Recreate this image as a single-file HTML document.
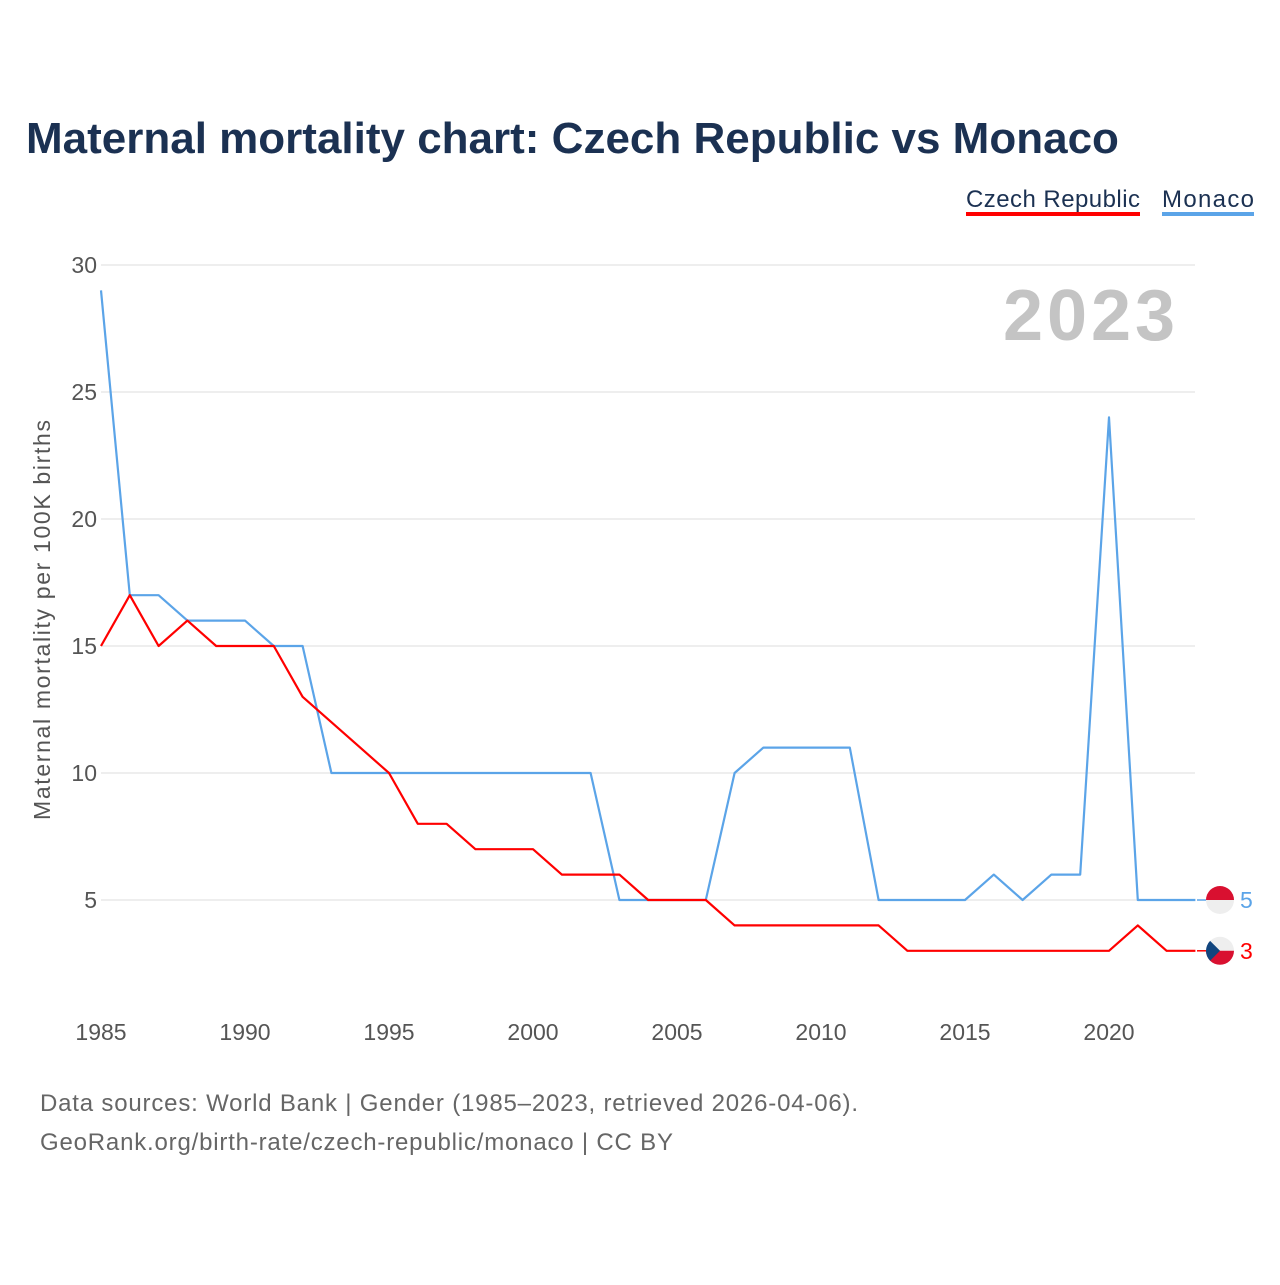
<!DOCTYPE html>
<html><head><meta charset="utf-8"><style>
body{margin:0;background:#fff;font-family:"Liberation Sans",sans-serif;}
svg text{font-family:"Liberation Sans",sans-serif;}
</style></head><body>
<svg width="1280" height="1280" viewBox="0 0 1280 1280">
<text x="26" y="153" font-size="44" font-weight="bold" fill="#1b3152">Maternal mortality chart: Czech Republic vs Monaco</text>
<g>
<text x="966" y="207" font-size="24" fill="#1b3152" textLength="174">Czech Republic</text>
<rect x="966" y="212" width="174" height="4" fill="#ff0000"/>
<text x="1162" y="207" font-size="24" fill="#1b3152" textLength="92">Monaco</text>
<rect x="1162" y="212" width="92" height="4" fill="#5ba4e8"/>
</g>
<g id="grid"></g>
<g id="xt"></g>
<text x="1175" y="340" font-size="72" font-weight="bold" fill="#c4c4c4" text-anchor="end" textLength="172">2023</text>
<text transform="translate(50,620) rotate(-90)" font-size="23" fill="#555" text-anchor="middle" textLength="400">Maternal mortality per 100K births</text>
<g id="lines"></g>
<g id="ends"></g>
<text x="40" y="1111" font-size="24" fill="#666" textLength="818">Data sources: World Bank | Gender (1985–2023, retrieved 2026-04-06).</text>
<text x="40" y="1150" font-size="24" fill="#666" textLength="633">GeoRank.org/birth-rate/czech-republic/monaco | CC BY</text>
</svg>
<script>
const years=[];for(let y=1985;y<=2023;y++)years.push(y);
const czech=[15,17,15,16,15,15,15,13,12,11,10,8,8,7,7,7,6,6,6,5,5,5,4,4,4,4,4,4,3,3,3,3,3,3,3,3,4,3,3];
const monaco=[29,17,17,16,16,16,15,15,10,10,10,10,10,10,10,10,10,10,5,5,5,5,10,11,11,11,11,5,5,5,5,6,5,6,6,24,5,5,5];
const yTicks=[5,10,15,20,25,30];
const xTicks=[1985,1990,1995,2000,2005,2010,2015,2020];
const NS="http://www.w3.org/2000/svg";
const X=y=>101+(y-1985)*28.8;
const Y=v=>900-(v-5)*25.4;
function mk(t,a,p){const e=document.createElementNS(NS,t);for(const k in a)e.setAttribute(k,a[k]);p.appendChild(e);return e;}
const g=document.getElementById('grid');
yTicks.forEach(v=>{
 const l=mk('line',{x1:101,x2:1195,y1:Y(v),y2:Y(v),stroke:'#e8e8e8','stroke-width':1.5},g);
 
 
 const t=mk('text',{x:97,y:Y(v)+8,'font-size':23,fill:'#555','text-anchor':'end'},g);t.textContent=v;
 
 
});
const xt=document.getElementById('xt');
xTicks.forEach(v=>{
 const t=mk('text',{x:X(v),y:1040,'font-size':23,fill:'#555','text-anchor':'middle'},xt);t.textContent=v;
 
 
});
const L=document.getElementById('lines');
function line(d,c,n){const p=mk('polyline',{points:d.map((v,i)=>X(years[i])+','+Y(v)).join(' '),fill:'none',stroke:c,'stroke-width':2.2,'stroke-linejoin':'round'},L);
 
 }
line(monaco,'#5ba4e8','line-monaco');
line(czech,'#ff0000','line-czech-republic');
const E=document.getElementById('ends');
const lm=monaco[monaco.length-1],lc=czech[czech.length-1];
mk('line',{x1:1197,x2:1206,y1:Y(lm),y2:Y(lm),stroke:'#5ba4e8','stroke-width':1.5},E);
mk('line',{x1:1197,x2:1206,y1:Y(lc),y2:Y(lc),stroke:'#ff0000','stroke-width':1.5},E);
const fm=mk('g',{},E);


mk('path',{d:`M1206 ${Y(lm)} a14 14 0 0 1 28 0z`,fill:'#d91030'},fm);
mk('path',{d:`M1206 ${Y(lm)} a14 14 0 0 0 28 0z`,fill:'#eeeeee'},fm);
const cy=Y(lc);
const fc=mk('g',{},E);


mk('path',{d:`M1206 ${cy} a14 14 0 0 1 28 0z`,fill:'#eeeeee'},fc);
mk('path',{d:`M1206 ${cy} a14 14 0 0 0 28 0z`,fill:'#d91030'},fc);
mk('path',{d:`M1210.1 ${cy-9.9} L1220 ${cy} L1210.1 ${cy+9.9} A14 14 0 0 1 1210.1 ${cy-9.9}z`,fill:'#11457e'},fc);
const t1=mk('text',{x:1240,y:Y(lm)+8,'font-size':23,fill:'#5ba4e8'},E);t1.textContent=lm;


const t2=mk('text',{x:1240,y:cy+8,'font-size':23,fill:'#ff0000'},E);t2.textContent=lc;


</script>
</body></html>
